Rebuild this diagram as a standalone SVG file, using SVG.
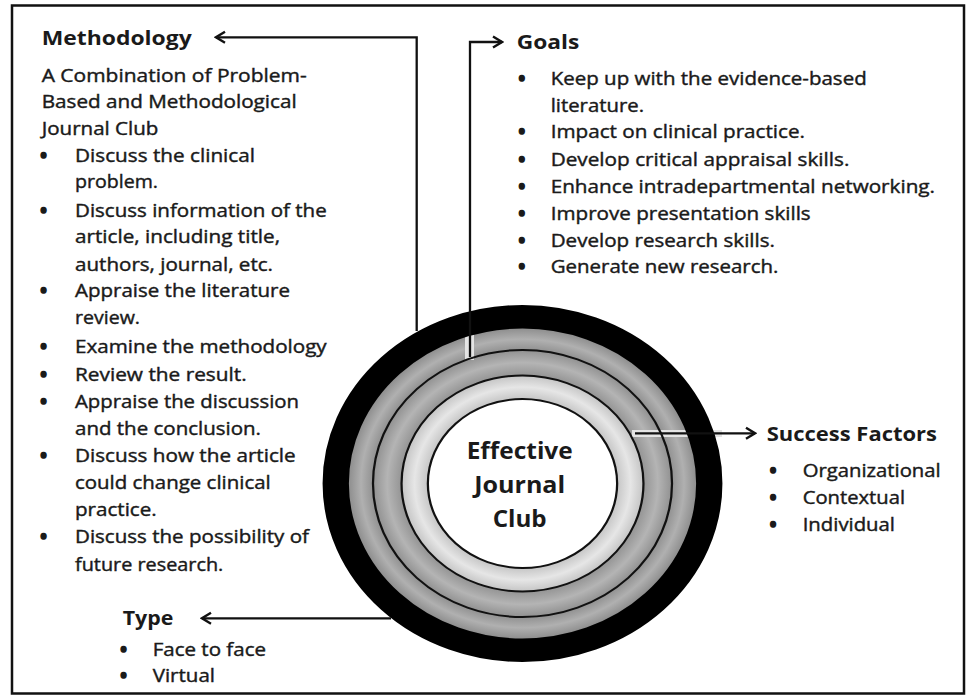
<svg xmlns="http://www.w3.org/2000/svg" width="967" height="696" viewBox="0 0 967 696">
<style>
text{font-family:"Open Sans","Liberation Sans",sans-serif;fill:#1a1a1a;}
.b{font-size:17.5px;stroke:#1a1a1a;stroke-width:0.4;}
.t{font-size:19px;font-weight:700;}
.c{font-size:23px;font-weight:700;text-anchor:middle;}
.bl{font-size:17.5px;font-weight:700;text-anchor:middle;stroke:#1a1a1a;stroke-width:1.5;}
.ln{fill:none;stroke:#111;stroke-width:2.3;}
.ring{fill:none;stroke:#111;stroke-width:2;}
</style>
<defs>
<marker id="arr" viewBox="-12 -8 14 16" refX="0" refY="0" markerWidth="14" markerHeight="16" markerUnits="userSpaceOnUse" orient="auto">
<path d="M-9,-5.5 L0,0 L-9,5.5" fill="none" stroke="#111" stroke-width="2.4"/>
</marker>
<radialGradient id="rg" cx="0" cy="0" r="178.5" gradientUnits="userSpaceOnUse">
<stop offset="0.47" stop-color="#c4c4c4"/>
<stop offset="0.54" stop-color="#e6e6e6"/>
<stop offset="0.603" stop-color="#c6c6c6"/>
<stop offset="0.607" stop-color="#959595"/>
<stop offset="0.677" stop-color="#b4b4b4"/>
<stop offset="0.746" stop-color="#929292"/>
<stop offset="0.750" stop-color="#929292"/>
<stop offset="0.808" stop-color="#b0b0b0"/>
<stop offset="0.87" stop-color="#8e8e8e"/>
</radialGradient>
</defs>
<rect x="12" y="5.5" width="952" height="688" fill="#fff" stroke="#111" stroke-width="2.5"/>

<g id="node-center">
<g transform="translate(522.5 483.5) scale(1.12 1)">
<circle r="160" fill="url(#rg)"/>
</g>
<rect x="465" y="315" width="9" height="45" fill="#e4e4e4"/>
<rect x="632" y="430" width="90" height="7" fill="#e4e4e4"/>
<g transform="translate(522.5 483.5) scale(1.12 1)">
<circle r="84.5" fill="#fff"/>
<circle r="166.75" fill="none" stroke="#000" stroke-width="23.5"/>
<circle r="133.5" class="ring"/>
<circle r="108" class="ring"/>
<circle r="84.5" class="ring"/>
</g>
<text class="c" x="519.7" y="459.3" textLength="106" lengthAdjust="spacingAndGlyphs">Effective</text>
<text class="c" x="519.7" y="492.7" textLength="91" lengthAdjust="spacingAndGlyphs">Journal</text>
<text class="c" x="519.7" y="526.7" textLength="54" lengthAdjust="spacingAndGlyphs">Club</text>
</g>

<g id="connectors">
<path class="ln" d="M416.7,331 V37.3 H216" marker-end="url(#arr)"/>
<path class="ln" d="M470,357 V42 H502" marker-end="url(#arr)"/>
<path class="ln" d="M635,433.3 H755" marker-end="url(#arr)"/>
<path class="ln" d="M391,618.3 H202" marker-end="url(#arr)"/>
</g>

<g id="node-methodology">
<text class="t" x="41.7" y="45" textLength="150" lengthAdjust="spacingAndGlyphs">Methodology</text>
<text class="b" x="41.7" y="81.7" textLength="265" lengthAdjust="spacingAndGlyphs">A Combination of Problem-</text>
<text class="b" x="41.7" y="108.3" textLength="255" lengthAdjust="spacingAndGlyphs">Based and Methodological</text>
<text class="b" x="41.7" y="134.5" textLength="116.7" lengthAdjust="spacingAndGlyphs">Journal Club</text>
<text class="bl" x="43.5" y="161.7">•</text>
<text class="b" x="75" y="161.7" textLength="180" lengthAdjust="spacingAndGlyphs">Discuss the clinical</text>
<text class="b" x="75" y="188.3" textLength="83" lengthAdjust="spacingAndGlyphs">problem.</text>
<text class="bl" x="43.5" y="216.7">•</text>
<text class="b" x="75" y="216.7" textLength="251.7" lengthAdjust="spacingAndGlyphs">Discuss information of the</text>
<text class="b" x="75" y="243.3" textLength="205" lengthAdjust="spacingAndGlyphs">article, including title,</text>
<text class="b" x="75" y="270.7" textLength="198" lengthAdjust="spacingAndGlyphs">authors, journal, etc.</text>
<text class="bl" x="43.5" y="297.3">•</text>
<text class="b" x="75" y="297.3" textLength="215" lengthAdjust="spacingAndGlyphs">Appraise the literature</text>
<text class="b" x="75" y="323.7" textLength="65" lengthAdjust="spacingAndGlyphs">review.</text>
<text class="bl" x="43.5" y="353.3">•</text>
<text class="b" x="75" y="353.3" textLength="251.7" lengthAdjust="spacingAndGlyphs">Examine the methodology</text>
<text class="bl" x="43.5" y="380.7">•</text>
<text class="b" x="75" y="380.7" textLength="171.7" lengthAdjust="spacingAndGlyphs">Review the result.</text>
<text class="bl" x="43.5" y="408.3">•</text>
<text class="b" x="75" y="408.3" textLength="224" lengthAdjust="spacingAndGlyphs">Appraise the discussion</text>
<text class="b" x="75" y="435" textLength="186" lengthAdjust="spacingAndGlyphs">and the conclusion.</text>
<text class="bl" x="43.5" y="461.7">•</text>
<text class="b" x="75" y="461.7" textLength="220.7" lengthAdjust="spacingAndGlyphs">Discuss how the article</text>
<text class="b" x="75" y="489" textLength="195.7" lengthAdjust="spacingAndGlyphs">could change clinical</text>
<text class="b" x="75" y="516" textLength="81.7" lengthAdjust="spacingAndGlyphs">practice.</text>
<text class="bl" x="43.5" y="543.3">•</text>
<text class="b" x="75" y="543.3" textLength="234" lengthAdjust="spacingAndGlyphs">Discuss the possibility of</text>
<text class="b" x="75" y="570.7" textLength="148.3" lengthAdjust="spacingAndGlyphs">future research.</text>
</g>

<g id="node-goals">
<text class="t" x="516.7" y="49.3" textLength="62.6" lengthAdjust="spacingAndGlyphs">Goals</text>
<text class="bl" x="521.7" y="85">•</text>
<text class="b" x="550.7" y="85" textLength="316" lengthAdjust="spacingAndGlyphs">Keep up with the evidence-based</text>
<text class="b" x="550.7" y="111.7" textLength="93.3" lengthAdjust="spacingAndGlyphs">literature.</text>
<text class="bl" x="521.7" y="138.3">•</text>
<text class="b" x="550.7" y="138.3" textLength="254.3" lengthAdjust="spacingAndGlyphs">Impact on clinical practice.</text>
<text class="bl" x="521.7" y="166">•</text>
<text class="b" x="550.7" y="166" textLength="298.7" lengthAdjust="spacingAndGlyphs">Develop critical appraisal skills.</text>
<text class="bl" x="521.7" y="192.7">•</text>
<text class="b" x="550.7" y="192.7" textLength="384.3" lengthAdjust="spacingAndGlyphs">Enhance intradepartmental networking.</text>
<text class="bl" x="521.7" y="220">•</text>
<text class="b" x="550.7" y="220" textLength="260" lengthAdjust="spacingAndGlyphs">Improve presentation skills</text>
<text class="bl" x="521.7" y="247.3">•</text>
<text class="b" x="550.7" y="247.3" textLength="224.3" lengthAdjust="spacingAndGlyphs">Develop research skills.</text>
<text class="bl" x="521.7" y="273.3">•</text>
<text class="b" x="550.7" y="273.3" textLength="227.7" lengthAdjust="spacingAndGlyphs">Generate new research.</text>
</g>

<g id="node-success">
<text class="t" x="766.7" y="440.7" textLength="170.3" lengthAdjust="spacingAndGlyphs">Success Factors</text>
<text class="bl" x="773" y="477.3">•</text>
<text class="b" x="802.7" y="477.3" textLength="138" lengthAdjust="spacingAndGlyphs">Organizational</text>
<text class="bl" x="773" y="504">•</text>
<text class="b" x="802.7" y="504" textLength="102.3" lengthAdjust="spacingAndGlyphs">Contextual</text>
<text class="bl" x="773" y="530.7">•</text>
<text class="b" x="802.7" y="530.7" textLength="92.3" lengthAdjust="spacingAndGlyphs">Individual</text>
</g>

<g id="node-type">
<text class="t" x="122.7" y="625" textLength="50.7" lengthAdjust="spacingAndGlyphs">Type</text>
<text class="bl" x="123.5" y="655.7">•</text>
<text class="b" x="152.7" y="655.7" textLength="113.3" lengthAdjust="spacingAndGlyphs">Face to face</text>
<text class="bl" x="123.5" y="682.3">•</text>
<text class="b" x="152.7" y="682.3" textLength="62.3" lengthAdjust="spacingAndGlyphs">Virtual</text>
</g>
</svg>
